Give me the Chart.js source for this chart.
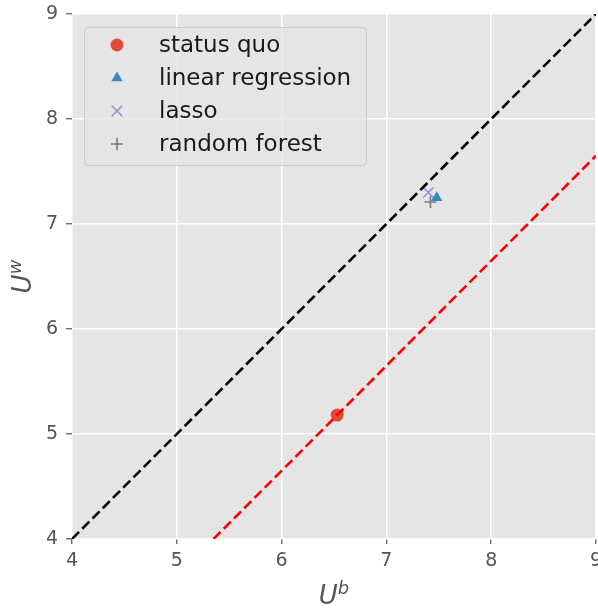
<!DOCTYPE html>
<html>
<head>
<meta charset="utf-8">
<script src="https://cdn.jsdelivr.net/npm/chart.js@4.4.1/dist/chart.umd.min.js"></script>
<style>
  html, body { margin: 0; padding: 0; background: #ffffff; }
  #wrap { width: 598px; height: 608px; overflow: hidden; }
</style>
</head>
<body>
<div id="wrap"><canvas id="c" width="598" height="608"></canvas></div>
<script>
// ---- data ----
const statusQuoX = [6.53];
const statusQuoY = [5.18];
const linRegX = [7.48];
const linRegY = [7.25];
const lassoX = [7.40];
const lassoY = [7.30];
const rfX = [7.42];
const rfY = [7.21];
// reference lines
const diagX = [4, 9];
const diagY = [4, 9];
const shiftX = [5.35, 9];
const shiftY = [4, 7.65];
// axis ticks
const xTicks = [4, 5, 6, 7, 8, 9];
const yTicks = [4, 5, 6, 7, 8, 9];
const seriesLabels = ['status quo', 'linear regression', 'lasso', 'random forest'];

const toPts = (xs, ys) => xs.map((x, i) => ({ x: x, y: ys[i] }));

const C_RED = '#E24A33', C_BLUE = '#348ABD', C_PURPLE = '#988ED5', C_GRAY = '#777777';

const markerDefs = [
  { style: 'circle', color: C_RED, r: 6.5, bw: 0 },
  { style: 'triangle', color: C_BLUE, r: 6.5, bw: 0 },
  { style: 'crossRot', color: C_PURPLE, r: 7.5, bw: 1.6 },
  { style: 'cross', color: C_GRAY, r: 6, bw: 1.6 }
];
const seriesX = [statusQuoX, linRegX, lassoX, rfX];
const seriesY = [statusQuoY, linRegY, lassoY, rfY];

const datasets = [
  { label: '_diag', data: toPts(diagX, diagY), showLine: true, borderColor: '#000000', borderWidth: 2.6,
    borderDash: [10, 4.5], pointRadius: 0, fill: false },
  { label: '_shift', data: toPts(shiftX, shiftY), showLine: true, borderColor: '#FF0000', borderWidth: 2.6,
    borderDash: [10, 4.5], pointRadius: 0, fill: false }
];
seriesLabels.forEach((lab, i) => {
  const m = markerDefs[i];
  datasets.push({
    label: lab, data: toPts(seriesX[i], seriesY[i]), showLine: false,
    pointStyle: m.style, pointRadius: m.r, backgroundColor: m.color,
    borderColor: m.color, borderWidth: m.bw, pointHoverRadius: m.r
  });
});

const bgPlugin = {
  id: 'bg',
  beforeDraw(chart) {
    const a = chart.chartArea, ctx = chart.ctx;
    ctx.save();
    ctx.fillStyle = '#ffffff';
    ctx.fillRect(0, 0, chart.width, chart.height);
    ctx.fillStyle = '#E5E5E5';
    ctx.fillRect(a.left, a.top, a.right - a.left, a.bottom - a.top);
    ctx.restore();
  }
};

function drawMarker(ctx, style, x, y, r, color, bw) {
  ctx.save();
  ctx.fillStyle = color; ctx.strokeStyle = color; ctx.lineWidth = bw || 1;
  ctx.beginPath();
  if (style === 'circle') {
    ctx.arc(x, y, r, 0, Math.PI * 2); ctx.fill();
  } else if (style === 'triangle') {
    ctx.moveTo(x, y - r);
    ctx.lineTo(x + r * Math.cos(Math.PI / 6), y + r * 0.5);
    ctx.lineTo(x - r * Math.cos(Math.PI / 6), y + r * 0.5);
    ctx.closePath(); ctx.fill();
  } else if (style === 'crossRot') {
    const o = r * Math.cos(Math.PI / 4);
    ctx.moveTo(x - o, y - o); ctx.lineTo(x + o, y + o);
    ctx.moveTo(x + o, y - o); ctx.lineTo(x - o, y + o); ctx.stroke();
  } else if (style === 'cross') {
    ctx.moveTo(x - r, y); ctx.lineTo(x + r, y);
    ctx.moveTo(x, y - r); ctx.lineTo(x, y + r); ctx.stroke();
  }
  ctx.restore();
}

const overlayPlugin = {
  id: 'overlay',
  afterDraw(chart) {
    const ctx = chart.ctx, a = chart.chartArea;
    // legend
    const bx = a.left + 12, by = a.top + 13, bw = 282, bh = 138;
    ctx.save();
    ctx.beginPath();
    if (ctx.roundRect) ctx.roundRect(bx + 0.5, by + 0.5, bw, bh, 4); else ctx.rect(bx + 0.5, by + 0.5, bw, bh);
    ctx.fillStyle = 'rgba(229,229,229,0.8)';
    ctx.fill();
    ctx.strokeStyle = '#CCCCCC'; ctx.lineWidth = 1; ctx.stroke();
    ctx.font = "23px 'DejaVu Sans'";
    ctx.fillStyle = '#1a1a1a';
    ctx.textBaseline = 'middle';
    ctx.textAlign = 'left';
    const rowY = [45, 78, 111, 144];
    seriesLabels.forEach((lab, i) => {
      const m = markerDefs[i];
      const yy = rowY[i] - 14 + a.top;
      drawMarker(ctx, m.style, bx + 33, yy, m.r, m.color, m.bw);
      ctx.fillText(lab, bx + 75, yy + 1);
    });
    ctx.restore();

    // axis titles (mathtext style)
    ctx.save();
    ctx.fillStyle = '#555555';
    ctx.textBaseline = 'alphabetic';
    ctx.textAlign = 'left';
    const cx = (a.left + a.right) / 2;
    ctx.font = "italic 26px 'DejaVu Sans'";
    const wU = ctx.measureText('U').width;
    ctx.font = "italic 18px 'DejaVu Sans'";
    const wb = ctx.measureText('b').width;
    const x0 = cx - (wU + wb) / 2;
    ctx.font = "italic 26px 'DejaVu Sans'";
    ctx.fillText('U', x0, 604);
    ctx.font = "italic 18px 'DejaVu Sans'";
    ctx.fillText('b', x0 + wU, 594);

    const cy = (a.top + a.bottom) / 2;
    ctx.translate(31, cy);
    ctx.rotate(-Math.PI / 2);
    ctx.font = "italic 26px 'DejaVu Sans'";
    const wU2 = ctx.measureText('U').width;
    ctx.font = "italic 18px 'DejaVu Sans'";
    const ww = ctx.measureText('w').width;
    const y0 = -(wU2 + ww) / 2;
    ctx.font = "italic 26px 'DejaVu Sans'";
    ctx.fillText('U', y0, 0);
    ctx.font = "italic 18px 'DejaVu Sans'";
    ctx.fillText('w', y0 + wU2, -10);
    ctx.restore();
  }
};

const tickFont = { family: "'DejaVu Sans'", size: 19 };

new Chart(document.getElementById('c'), {
  type: 'scatter',
  data: { datasets: datasets },
  options: {
    responsive: false,
    animation: false,
    devicePixelRatio: 1,
    events: [],
    layout: { autoPadding: false, padding: { top: 14, right: 2, left: 0, bottom: 0 } },
    plugins: { legend: { display: false }, tooltip: { enabled: false } },
    scales: {
      x: {
        type: 'linear', min: 4, max: 9,
        afterBuildTicks(scale) { scale.ticks = xTicks.map(v => ({ value: v })); },
        afterFit(scale) { scale.height = 69; scale.paddingLeft = 0; scale.paddingRight = 0; },
        ticks: { color: '#555555', font: tickFont, padding: 6, maxRotation: 0, autoSkip: false },
        grid: { color: '#FFFFFF', lineWidth: 1.5, tickColor: '#555555', tickLength: 5, tickWidth: 1.2 },
        border: { display: false }
      },
      y: {
        type: 'linear', min: 4, max: 9,
        afterBuildTicks(scale) { scale.ticks = yTicks.map(v => ({ value: v })); },
        afterFit(scale) { scale.width = 72; scale.paddingTop = 0; scale.paddingBottom = 0; },
        ticks: { color: '#555555', font: tickFont, padding: 8, autoSkip: false },
        grid: { color: '#FFFFFF', lineWidth: 1.5, tickColor: '#555555', tickLength: 6, tickWidth: 1.2 },
        border: { display: false }
      }
    }
  },
  plugins: [bgPlugin, overlayPlugin]
});
</script>
</body>
</html>
